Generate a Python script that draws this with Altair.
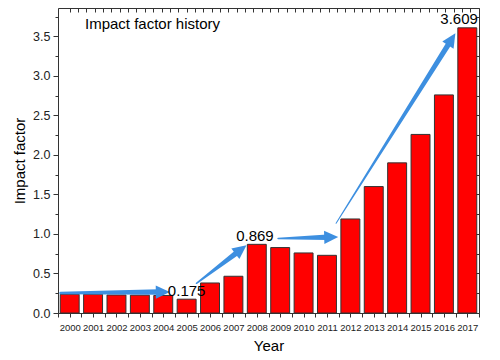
import math
import altair as alt
import pandas as pd
import numpy as np

# ---- data ----
years = list(range(2000, 2018))
impact = [0.237, 0.237, 0.228, 0.226, 0.222, 0.175, 0.38, 0.465, 0.869, 0.828,
          0.76, 0.73, 1.19, 1.60, 1.90, 2.26, 2.76, 3.609]

# arrows (data coordinates: year, impact factor)
arrow_id = [1, 2, 3, 4]
arrow_x0 = [1999.61, 2005.42, 2008.91, 2011.39]
arrow_y0 = [0.253, 0.376, 0.942, 1.135]
arrow_x1 = [2004.28, 2007.56, 2011.48, 2016.49]
arrow_y1 = [0.266, 0.857, 0.962, 3.54]
arrow_w0 = [2.5, 1.5, 1.5, 1.0]

# value labels
label_text = ["0.175", "0.869", "3.609"]
label_x = [2005.0, 2007.92, 2016.65]
label_y = [0.278, 0.975, 3.72]

title_text = ["Impact factor history"]

# ---- layout ----
W, H = 421, 305
XD = [1999.5, 2017.5]
YD = [0, 3.86]
BLUE = "#3d8fe0"
FONT = "Liberation Sans"
px = W / (XD[1] - XD[0])
py = H / (YD[1] - YD[0])
HEAD = 14.0

bars = pd.DataFrame({"year": years, "value": impact})

shaft_rows, head_rows = [], []
for i, x0, y0, x1, y1, w0 in zip(arrow_id, arrow_x0, arrow_y0, arrow_x1, arrow_y1, arrow_w0):
    dxp = (x1 - x0) * px
    dyp = (y1 - y0) * py
    L = math.hypot(dxp, dyp)
    ux, uy = dxp / L, dyp / L
    bx = x1 - (HEAD - 3) * ux / px
    by = y1 - (HEAD - 3) * uy / py
    shaft_rows.append({"id": i, "o": 0, "x": x0, "y": y0, "w": w0})
    shaft_rows.append({"id": i, "o": 1, "x": bx, "y": by, "w": 5.5})
    ang = math.degrees(math.atan2(-dyp, dxp)) % 360
    head_rows.append({"id": i, "x": x1, "y": y1, "ang": ang})
shafts = pd.DataFrame(shaft_rows)
heads = pd.DataFrame(head_rows)
labels = pd.DataFrame({"t": label_text, "x": label_x, "y": label_y})
titles = pd.DataFrame({"t": title_text})

xscale = alt.Scale(domain=XD, nice=False, zero=False)
yscale = alt.Scale(domain=YD, nice=False)

xticks_bottom = [float(v) for v in np.arange(1999.5, 2017.51, 0.5)]
xticks_top = [float(v) for v in np.arange(2000.0, 2017.51, 0.357)]
yticks = [float(v) for v in np.arange(0, 3.76, 0.25)]
ytick_size = {"condition": {"test": "datum.value % 0.5 == 0", "value": 5}, "value": 3}

bar_layer = alt.Chart(bars).transform_calculate(
    x0="datum.year - 0.405", x1="datum.year + 0.405"
).mark_bar(color="#ff0000", stroke="#333333", strokeWidth=1).encode(
    x=alt.X("x0:Q", scale=xscale, axis=alt.Axis(
        orient="bottom", values=xticks_bottom,
        labelExpr="datum.value % 1 == 0 ? format(datum.value, 'd') : ''",
        title="Year", tickSize=4, labelFontSize=9.5, labelPadding=5,
        labelFlush=False, labelOverlap=False, labelBound=False,
        titleFontSize=15, titleFontWeight="normal", titlePadding=7,
        grid=False, domainColor="#333333", tickColor="#333333",
        labelColor="#222222", titleColor="#000000", labelFont=FONT, titleFont=FONT)),
    x2="x1:Q",
    y=alt.Y("value:Q", scale=yscale, axis=alt.Axis(
        orient="left", values=yticks,
        labelExpr="datum.value % 0.5 == 0 ? format(datum.value, '.1f') : ''",
        title="Impact factor", tickSize=ytick_size, labelFontSize=12.5, labelPadding=3,
        labelFlush=False, labelOverlap=False,
        titleFontSize=15, titleFontWeight="normal", titlePadding=5,
        grid=False, domainColor="#333333", tickColor="#333333",
        labelColor="#222222", titleColor="#000000", labelFont=FONT, titleFont=FONT)),
    y2=alt.datum(0),
)

frame_layer = alt.Chart(bars).mark_point(opacity=0).encode(
    x=alt.X("year:Q", scale=xscale, axis=alt.Axis(
        orient="bottom", offset=-H, values=xticks_top, labels=False, title=None,
        tickSize=4, grid=False, domainColor="#333333", tickColor="#333333")),
    y=alt.Y("value:Q", scale=yscale, axis=alt.Axis(
        orient="left", offset=-W, values=yticks, labels=False, title=None,
        tickSize=ytick_size, grid=False, domainColor="#333333", tickColor="#333333")),
)

shaft_layer = alt.Chart(shafts).mark_trail(color=BLUE).encode(
    x=alt.X("x:Q", scale=xscale, axis=None),
    y=alt.Y("y:Q", scale=yscale, axis=None),
    size=alt.Size("w:Q", scale=None, legend=None),
    detail="id:N",
    order="o:Q",
)

head_layer = alt.Chart(heads).mark_point(
    shape="M0,0 L-2,-0.95 L-2,0.95 Z", filled=True, size=HEAD * HEAD,
    color=BLUE, opacity=1, strokeWidth=0
).encode(
    x=alt.X("x:Q", scale=xscale, axis=None),
    y=alt.Y("y:Q", scale=yscale, axis=None),
    angle=alt.Angle("ang:Q", scale=None),
)

label_layer = alt.Chart(labels).mark_text(
    fontSize=15, font=FONT, color="#000000", align="center", baseline="middle"
).encode(
    x=alt.X("x:Q", scale=xscale, axis=None),
    y=alt.Y("y:Q", scale=yscale, axis=None),
    text="t:N",
)

title_layer = alt.Chart(titles).mark_text(
    fontSize=15, font=FONT, color="#000000", align="left", baseline="middle"
).encode(
    x=alt.value(27), y=alt.value(16), text="t:N"
)

chart = alt.layer(
    bar_layer, frame_layer, shaft_layer, head_layer, label_layer, title_layer
).resolve_axis(x="independent", y="independent").properties(
    width=W, height=H,
    padding={"left": 50, "top": 0, "right": 5, "bottom": 45},
    autosize=alt.AutoSizeParams(type="none"),
).configure_view(stroke="#333333", strokeWidth=1).configure(font=FONT, background="white")

chart.save("out.html", embed_options={"renderer": "svg", "actions": False})
